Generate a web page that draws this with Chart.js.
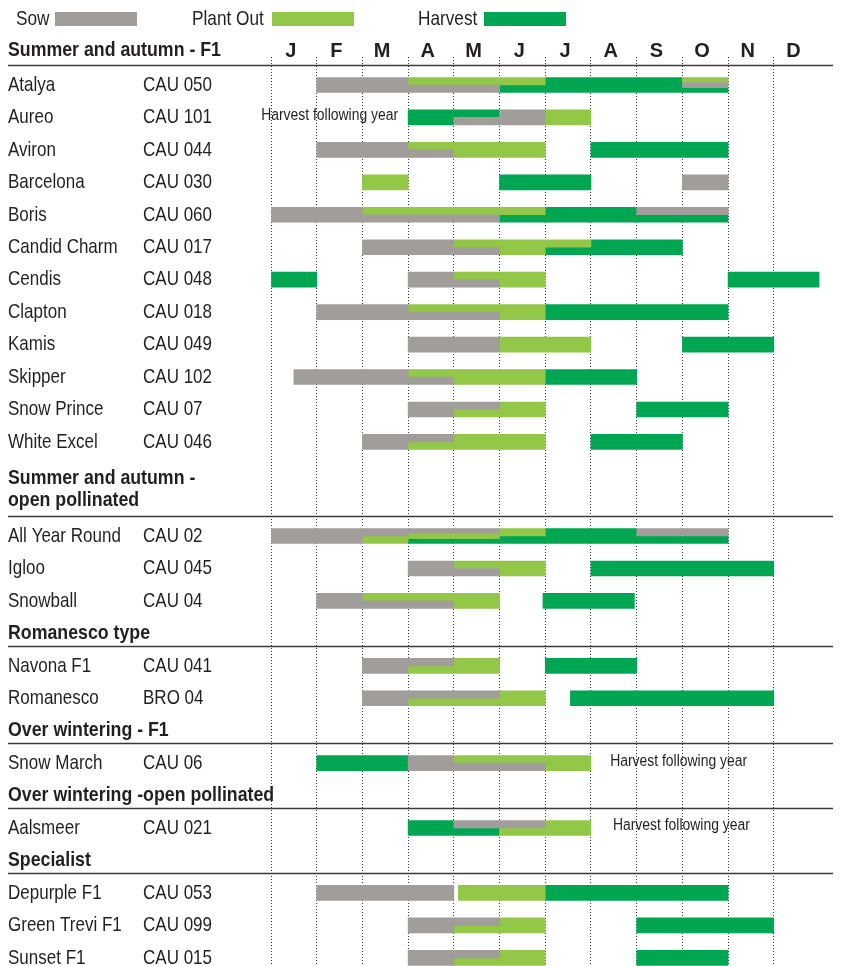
<!DOCTYPE html>
<html>
<head>
<meta charset="utf-8">
<title>Cauliflower sowing calendar</title>
<script src="https://cdn.jsdelivr.net/npm/chart.js@4.4.1/dist/chart.umd.min.js"></script>
<style>
  html, body { margin: 0; padding: 0; background: #fff; overflow: hidden; }
  #wrap { position: relative; width: 841px; height: 1000px; }
</style>
</head>
<body>
<div id="wrap"><canvas id="calendario" width="841" height="1000"></canvas></div>
<script>
    // meses no eixo de cima
    const months = ['J', 'F', 'M', 'A', 'M', 'J', 'J', 'A', 'S', 'O', 'N', 'D'];

    // titulos das secoes (uma linha por item)
    const sectionTitles = [
        ['Summer and autumn - F1'],
        ['Summer and autumn -', 'open pollinated'],
        ['Romanesco type'],
        ['Over wintering - F1'],
        ['Over wintering -open pollinated'],
        ['Specialist']
    ];

    const varieties = ['Atalya', 'Aureo', 'Aviron', 'Barcelona', 'Boris', 'Candid Charm', 'Cendis', 'Clapton',
        'Kamis', 'Skipper', 'Snow Prince', 'White Excel',
        'All Year Round', 'Igloo', 'Snowball',
        'Navona F1', 'Romanesco',
        'Snow March',
        'Aalsmeer',
        'Depurple F1', 'Green Trevi F1', 'Sunset F1'];

    const codes = ['CAU 050', 'CAU 101', 'CAU 044', 'CAU 030', 'CAU 060', 'CAU 017', 'CAU 048', 'CAU 018',
        'CAU 049', 'CAU 102', 'CAU 07', 'CAU 046',
        'CAU 02', 'CAU 045', 'CAU 04',
        'CAU 041', 'BRO 04',
        'CAU 06',
        'CAU 021',
        'CAU 053', 'CAU 099', 'CAU 015'];

    const sectionOf = [0, 0, 0, 0, 0, 0, 0, 0, 0, 0, 0, 0, 1, 1, 1, 2, 2, 3, 4, 5, 5, 5];

    // [variedade, mes inicio, mes fim, faixa]  (0 = inicio de janeiro)
    const sow = [
        ['Atalya', 1, 3, 'full'], ['Atalya', 3, 5, 'bot'], ['Atalya', 9, 10, 'mid3'],
        ['Aureo', 4, 5, 'bot'], ['Aureo', 5, 6, 'full'],
        ['Aviron', 1, 3, 'full'], ['Aviron', 3, 4, 'bot'],
        ['Barcelona', 9, 10, 'full'],
        ['Boris', 0, 2, 'full'], ['Boris', 2, 5, 'bot'], ['Boris', 8, 10, 'top'],
        ['Candid Charm', 2, 4, 'full'], ['Candid Charm', 4, 5, 'bot'],
        ['Cendis', 3, 4, 'full'], ['Cendis', 4, 5, 'bot'],
        ['Clapton', 1, 3, 'full'], ['Clapton', 3, 5, 'bot'],
        ['Kamis', 3, 5, 'full'],
        ['Skipper', 0.5, 3, 'full'], ['Skipper', 3, 4, 'bot'],
        ['Snow Prince', 3, 4, 'full'], ['Snow Prince', 4, 5, 'top'],
        ['White Excel', 2, 3, 'full'], ['White Excel', 3, 4, 'top'],
        ['All Year Round', 0, 2, 'full'], ['All Year Round', 2, 3, 'top'], ['All Year Round', 3, 5, 'top3'],
        ['All Year Round', 8, 10, 'top'],
        ['Igloo', 3, 4, 'full'], ['Igloo', 4, 5, 'bot'],
        ['Snowball', 1, 2, 'full'], ['Snowball', 2, 4, 'bot'],
        ['Navona F1', 2, 3, 'full'], ['Navona F1', 3, 4, 'top'],
        ['Romanesco', 2, 3, 'full'], ['Romanesco', 3, 5, 'top'],
        ['Snow March', 3, 4, 'full'], ['Snow March', 4, 6, 'bot'],
        ['Aalsmeer', 4, 6, 'top'],
        ['Depurple F1', 1, 4, 'full'],
        ['Green Trevi F1', 3, 4, 'full'], ['Green Trevi F1', 4, 5, 'top'],
        ['Sunset F1', 3, 4, 'full'], ['Sunset F1', 4, 5, 'top']
    ];

    const plantOut = [
        ['Atalya', 3, 6, 'top'], ['Atalya', 9, 10, 'top3'],
        ['Aureo', 6, 7, 'full'],
        ['Aviron', 3, 4, 'top'], ['Aviron', 4, 6, 'full'],
        ['Barcelona', 2, 3, 'full'],
        ['Boris', 2, 6, 'top'],
        ['Candid Charm', 4, 7, 'top'], ['Candid Charm', 5, 6, 'bot'],
        ['Cendis', 4, 5, 'top'], ['Cendis', 5, 6, 'full'],
        ['Clapton', 3, 5, 'top'], ['Clapton', 5, 6, 'full'],
        ['Kamis', 5, 7, 'full'],
        ['Skipper', 3, 4, 'top'], ['Skipper', 4, 6, 'full'],
        ['Snow Prince', 4, 5, 'bot'], ['Snow Prince', 5, 6, 'full'],
        ['White Excel', 3, 4, 'bot'], ['White Excel', 4, 6, 'full'],
        ['All Year Round', 2, 3, 'bot'], ['All Year Round', 3, 5, 'mid3'], ['All Year Round', 5, 6, 'top'],
        ['Igloo', 4, 5, 'top'], ['Igloo', 5, 6, 'full'],
        ['Snowball', 2, 4, 'top'], ['Snowball', 4, 5, 'full'],
        ['Navona F1', 3, 4, 'bot'], ['Navona F1', 4, 5, 'full'],
        ['Romanesco', 3, 5, 'bot'], ['Romanesco', 5, 6, 'full'],
        ['Snow March', 4, 6, 'top'], ['Snow March', 6, 7, 'full'],
        ['Aalsmeer', 5, 6, 'bot'], ['Aalsmeer', 6, 7, 'full'],
        ['Depurple F1', 4.1, 6, 'full'],
        ['Green Trevi F1', 4, 5, 'bot'], ['Green Trevi F1', 5, 6, 'full'],
        ['Sunset F1', 4, 5, 'bot'], ['Sunset F1', 5, 6, 'full']
    ];

    const harvest = [
        ['Atalya', 5, 6, 'bot'], ['Atalya', 6, 9, 'full'], ['Atalya', 9, 10, 'bot3'],
        ['Aureo', 3, 4, 'full'], ['Aureo', 4, 5, 'top'],
        ['Aviron', 7, 10, 'full'],
        ['Barcelona', 5, 7, 'full'],
        ['Boris', 5, 6, 'bot'], ['Boris', 6, 8, 'full'], ['Boris', 8, 10, 'bot'],
        ['Candid Charm', 6, 7, 'bot'], ['Candid Charm', 7, 9, 'full'],
        ['Cendis', 0, 1, 'full'], ['Cendis', 10, 12, 'full'],
        ['Clapton', 6, 10, 'full'],
        ['Kamis', 9, 11, 'full'],
        ['Skipper', 6, 8, 'full'],
        ['Snow Prince', 8, 10, 'full'],
        ['White Excel', 7, 9, 'full'],
        ['All Year Round', 3, 5, 'bot3'], ['All Year Round', 5, 6, 'bot'], ['All Year Round', 6, 8, 'full'],
        ['All Year Round', 8, 10, 'bot'],
        ['Igloo', 7, 11, 'full'],
        ['Snowball', 5.95, 7.95, 'full'],
        ['Navona F1', 6, 8, 'full'],
        ['Romanesco', 6.55, 11, 'full'],
        ['Snow March', 1, 3, 'full'],
        ['Aalsmeer', 3, 4, 'full'], ['Aalsmeer', 4, 5, 'bot'],
        ['Depurple F1', 6, 10, 'full'],
        ['Green Trevi F1', 8, 11, 'full'],
        ['Sunset F1', 8, 10, 'full']
    ];

    // notas "Harvest following year": [variedade, mes, alinhamento]
    const notes = [
        ['Aureo', 2.78, 'right'],
        ['Snow March', 7.42, 'left'],
        ['Aalsmeer', 7.48, 'left']
    ];

    const phaseLabels = ['Sow', 'Plant Out', 'Harvest'];
    const phaseColors = ['#a19d9a', '#92c747', '#00a651'];
    const phaseData = [sow, plantOut, harvest];

    // sem fonte condensada instalada: Liberation Sans comprimida na horizontal
    const FONT = "'Liberation Sans', Arial, sans-serif";
    const INK = '#231f20';

    // geometria do grafico
    const TOP = 63, BOTTOM = 1000;
    const Y_MIN = -0.678, Y_MAX = 28.2;
    const ROW_PX = (BOTTOM - TOP) / (Y_MAX - Y_MIN);
    const BAR = 15;

    // monta as linhas: cabecalho de duas linhas ocupa um pouco menos que duas linhas
    let rowOf = {};
    let headerRows = [{ section: 0, row: -1, size: 1 }];
    let linha = 0;
    let secaoAtual = 0;
    for (let i = 0; i < varieties.length; i++) {
        if (sectionOf[i] != secaoAtual) {
            secaoAtual = sectionOf[i];
            const n = sectionTitles[secaoAtual].length;
            const tamanho = n == 1 ? 1 : 0.95 * n;
            headerRows.push({ section: secaoAtual, row: linha, size: tamanho });
            linha += tamanho;
        }
        rowOf[varieties[i]] = linha;
        linha++;
    }

    // faixas dentro de cada linha (deslocamento em px e espessura)
    const lanes = {
        full: [0, BAR],
        top: [-BAR / 4, BAR / 2],
        bot: [BAR / 4, BAR / 2],
        top3: [-BAR / 3, BAR / 3],
        mid3: [0, BAR / 3],
        bot3: [BAR / 3, BAR / 3]
    };

    let datasets = [];
    for (let p = 0; p < phaseData.length; p++) {
        Object.keys(lanes).forEach(lane => {
            let pontos = phaseData[p]
                .filter(s => s[3] == lane)
                .map(s => ({ x: [s[1], s[2]], y: rowOf[s[0]] + lanes[lane][0] / ROW_PX }));
            if (pontos.length == 0) return;
            datasets.push({
                label: phaseLabels[p],
                data: pontos,
                backgroundColor: phaseColors[p],
                borderWidth: 0,
                borderSkipped: false,
                grouped: false,
                barThickness: lanes[lane][1]
            });
        });
    }

    // escreve texto comprimido (continua sendo texto de verdade no canvas)
    function escrever(ctx, texto, x, y, aperto, align) {
        ctx.save();
        ctx.translate(x, y);
        ctx.scale(aperto, 1);
        ctx.textAlign = align || 'left';
        ctx.fillText(texto, 0, 0);
        ctx.restore();
    }

    const textosPlugin = {
        id: 'textos',
        afterDraw(chart) {
            const ctx = chart.ctx;
            const y = chart.scales.y;
            const x = chart.scales.x;
            ctx.save();
            ctx.textBaseline = 'middle';

            // legenda
            const legenda = [[16, 55, 137], [192, 272, 354], [418, 484, 566]];
            ctx.font = '21px ' + FONT;
            for (let i = 0; i < phaseLabels.length; i++) {
                ctx.fillStyle = INK;
                escrever(ctx, phaseLabels[i], legenda[i][0], 19, 0.82);
                ctx.fillStyle = phaseColors[i];
                ctx.fillRect(legenda[i][1], 12, legenda[i][2] - legenda[i][1], 14);
            }

            // nomes e codigos
            ctx.fillStyle = INK;
            for (let i = 0; i < varieties.length; i++) {
                const py = y.getPixelForValue(rowOf[varieties[i]]);
                escrever(ctx, varieties[i], 8, py, 0.81);
                escrever(ctx, codes[i], 143, py, 0.81);
            }

            // cabecalhos de secao + linha horizontal
            ctx.font = 'bold 21px ' + FONT;
            headerRows.forEach(h => {
                const titulo = sectionTitles[h.section];
                const n = titulo.length;
                const centro = y.getPixelForValue(h.row + (h.size - 1) / 2) + (h.row < 0 ? -2 : 0);
                titulo.forEach((t, k) => {
                    ctx.fillStyle = INK;
                    escrever(ctx, t, 8, centro + (k - (n - 1) / 2) * 22, 0.845);
                });
                const ly = Math.round(y.getPixelForValue(h.row + h.size) - 20) + 0.5;
                ctx.strokeStyle = '#3a3a3a';
                ctx.lineWidth = 1.3;
                ctx.beginPath();
                ctx.moveTo(8, ly);
                ctx.lineTo(833, ly);
                ctx.stroke();
            });

            // notas
            ctx.font = '16px ' + FONT;
            ctx.fillStyle = INK;
            notes.forEach(n => {
                escrever(ctx, 'Harvest following year', x.getPixelForValue(n[1]),
                    y.getPixelForValue(rowOf[n[0]]) - 2, 0.87, n[2]);
            });
            ctx.restore();
        }
    };

    new Chart(document.getElementById('calendario'), {
        type: 'bar',
        data: { datasets: datasets },
        options: {
            indexAxis: 'y',
            responsive: false,
            animation: false,
            layout: { padding: { left: 271, right: 21.5, top: 0, bottom: 0 } },
            plugins: {
                legend: { display: false },
                tooltip: { enabled: false },
                title: { display: false }
            },
            scales: {
                x: {
                    type: 'linear',
                    position: 'top',
                    min: 0,
                    max: 12,
                    offset: false,
                    afterFit(scale) { scale.height = TOP; },
                    ticks: {
                        stepSize: 1,
                        autoSkip: false,
                        maxRotation: 0,
                        padding: -4,
                        labelOffset: 19.7,
                        color: INK,
                        font: { family: FONT, size: 20, weight: 'bold', lineHeight: 1 },
                        callback: (v) => months[v] || ''
                    },
                    grid: {
                        offset: false,
                        color: (c) => (c.tick && c.tick.value >= 12) ? 'rgba(0,0,0,0)' : '#333',
                        lineWidth: 1,
                        tickLength: 6,
                        tickBorderDash: [1, 2]
                    },
                    border: { display: false, dash: [1, 2] }
                },
                y: {
                    type: 'linear',
                    display: false,
                    reverse: true,
                    offset: false,
                    min: Y_MIN,
                    max: Y_MAX,
                    grid: { display: false }
                }
            }
        },
        plugins: [textosPlugin]
    });
</script>
</body>
</html>
